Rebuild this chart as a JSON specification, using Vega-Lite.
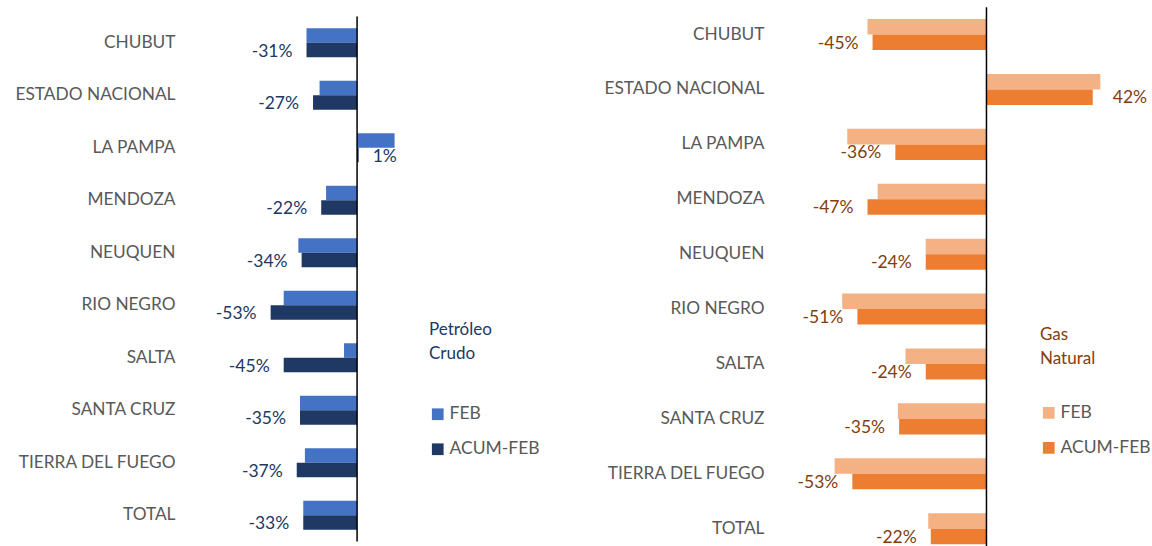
{
  "$schema": "https://vega.github.io/schema/vega-lite/v6.json",
  "background": "white",
  "padding": {"left": 5, "top": 6, "right": 0, "bottom": 0},
  "config": {
    "font": "Lato",
    "view": {"stroke": null},
    "axis": {"grid": false},
    "locale": {"number": {"decimal": ".", "thousands": ",", "grouping": [3], "currency": ["$", ""], "minus": "-"}}
  },
  "datasets": {
    "petroleo": [
      {"prov": "CHUBUT", "serie": "FEB", "value": -0.31},
      {"prov": "CHUBUT", "serie": "ACUM-FEB", "value": -0.31},
      {"prov": "ESTADO NACIONAL", "serie": "FEB", "value": -0.23},
      {"prov": "ESTADO NACIONAL", "serie": "ACUM-FEB", "value": -0.27},
      {"prov": "LA PAMPA", "serie": "FEB", "value": 0.23},
      {"prov": "LA PAMPA", "serie": "ACUM-FEB", "value": 0.01},
      {"prov": "MENDOZA", "serie": "FEB", "value": -0.19},
      {"prov": "MENDOZA", "serie": "ACUM-FEB", "value": -0.22},
      {"prov": "NEUQUEN", "serie": "FEB", "value": -0.36},
      {"prov": "NEUQUEN", "serie": "ACUM-FEB", "value": -0.34},
      {"prov": "RIO NEGRO", "serie": "FEB", "value": -0.45},
      {"prov": "RIO NEGRO", "serie": "ACUM-FEB", "value": -0.53},
      {"prov": "SALTA", "serie": "FEB", "value": -0.08},
      {"prov": "SALTA", "serie": "ACUM-FEB", "value": -0.45},
      {"prov": "SANTA CRUZ", "serie": "FEB", "value": -0.35},
      {"prov": "SANTA CRUZ", "serie": "ACUM-FEB", "value": -0.35},
      {"prov": "TIERRA DEL FUEGO", "serie": "FEB", "value": -0.32},
      {"prov": "TIERRA DEL FUEGO", "serie": "ACUM-FEB", "value": -0.37},
      {"prov": "TOTAL", "serie": "FEB", "value": -0.33},
      {"prov": "TOTAL", "serie": "ACUM-FEB", "value": -0.33}
    ],
    "gas": [
      {"prov": "CHUBUT", "serie": "FEB", "value": -0.47},
      {"prov": "CHUBUT", "serie": "ACUM-FEB", "value": -0.45},
      {"prov": "ESTADO NACIONAL", "serie": "FEB", "value": 0.45},
      {"prov": "ESTADO NACIONAL", "serie": "ACUM-FEB", "value": 0.42},
      {"prov": "LA PAMPA", "serie": "FEB", "value": -0.55},
      {"prov": "LA PAMPA", "serie": "ACUM-FEB", "value": -0.36},
      {"prov": "MENDOZA", "serie": "FEB", "value": -0.43},
      {"prov": "MENDOZA", "serie": "ACUM-FEB", "value": -0.47},
      {"prov": "NEUQUEN", "serie": "FEB", "value": -0.24},
      {"prov": "NEUQUEN", "serie": "ACUM-FEB", "value": -0.24},
      {"prov": "RIO NEGRO", "serie": "FEB", "value": -0.57},
      {"prov": "RIO NEGRO", "serie": "ACUM-FEB", "value": -0.51},
      {"prov": "SALTA", "serie": "FEB", "value": -0.32},
      {"prov": "SALTA", "serie": "ACUM-FEB", "value": -0.24},
      {"prov": "SANTA CRUZ", "serie": "FEB", "value": -0.35},
      {"prov": "SANTA CRUZ", "serie": "ACUM-FEB", "value": -0.345},
      {"prov": "TIERRA DEL FUEGO", "serie": "FEB", "value": -0.6},
      {"prov": "TIERRA DEL FUEGO", "serie": "ACUM-FEB", "value": -0.53},
      {"prov": "TOTAL", "serie": "FEB", "value": -0.23},
      {"prov": "TOTAL", "serie": "ACUM-FEB", "value": -0.22}
    ]
  },
  "spacing": 63,
  "center": true,
  "resolve": {
    "scale": {"x": "independent", "y": "independent", "color": "independent", "yOffset": "independent"},
    "legend": {"color": "independent"},
    "axis": {"x": "independent", "y": "independent"}
  },
  "hconcat": [
    {
      "width": 212,
      "height": 525,
      "data": {"name": "petroleo"},
      "encoding": {
        "y": {
          "field": "prov", "type": "nominal",
          "scale": {"domain": ["CHUBUT", "ESTADO NACIONAL", "LA PAMPA", "MENDOZA", "NEUQUEN", "RIO NEGRO", "SALTA", "SANTA CRUZ", "TIERRA DEL FUEGO", "TOTAL"], "paddingInner": 0.448, "paddingOuter": 0.224},
          "axis": {"title": null, "ticks": false, "tickSize": 0, "domain": false, "labelPadding": 19, "labelFontSize": 17.3, "labelColor": "#595959", "labelLimit": 0, "minExtent": 189, "maxExtent": 189}
        },
        "x": {
          "field": "value", "type": "quantitative",
          "scale": {"domain": [-1.0, 0.3], "nice": false, "zero": false},
          "axis": {"orient": "bottom", "title": null, "labels": false, "ticks": false, "domain": false, "grid": false, "minExtent": 6, "maxExtent": 6}
        }
      },
      "layer": [
        {
          "mark": {"type": "bar"},
          "encoding": {
            "yOffset": {"field": "serie", "type": "nominal", "scale": {"domain": ["FEB", "ACUM-FEB"], "paddingInner": 0, "paddingOuter": 0}},
            "color": {
              "field": "serie", "type": "nominal",
              "scale": {"domain": ["FEB", "ACUM-FEB"], "range": ["#4472C4", "#203864"]},
              "legend": {
                "title": ["Petróleo", "Crudo"], "orient": "none", "legendX": 235, "legendY": 305, "direction": "vertical",
                "titleColor": "#203864", "titleFontSize": 17, "titleFontWeight": "normal", "titleLineHeight": 24, "titlePadding": 43,
                "labelFontSize": 17.5, "labelColor": "#595959", "symbolType": "square", "symbolSize": 137, "symbolStrokeWidth": 0,
                "rowPadding": 16, "labelOffset": 3, "padding": 0
              }
            }
          }
        },
        {
          "transform": [{"filter": "datum.serie === 'ACUM-FEB' && datum.value < 0"}],
          "mark": {"type": "text", "align": "right", "baseline": "middle", "dx": -14, "dy": 9, "fontSize": 17.5, "color": "#203864"},
          "encoding": {"text": {"field": "value", "type": "quantitative", "format": ".0%"}}
        },
        {
          "transform": [{"filter": "datum.serie === 'ACUM-FEB' && datum.value >= 0"}],
          "mark": {"type": "text", "align": "left", "baseline": "middle", "dx": 14, "dy": 9, "fontSize": 17.5, "color": "#203864"},
          "encoding": {"text": {"field": "value", "type": "quantitative", "format": ".0%"}}
        },
        {
          "data": {"values": [{"zero": 0}]},
          "mark": {"type": "rule", "color": "black", "strokeWidth": 1.5},
          "encoding": {"x": {"field": "zero", "type": "quantitative"}, "y": null}
        }
      ]
    },
    {
      "width": 329,
      "height": 549,
      "data": {"name": "gas"},
      "encoding": {
        "y": {
          "field": "prov", "type": "nominal",
          "scale": {"domain": ["CHUBUT", "ESTADO NACIONAL", "LA PAMPA", "MENDOZA", "NEUQUEN", "RIO NEGRO", "SALTA", "SANTA CRUZ", "TIERRA DEL FUEGO", "TOTAL"], "paddingInner": 0.435, "paddingOuter": 0.2175},
          "axis": {"title": null, "ticks": false, "tickSize": 0, "domain": false, "labelPadding": 20, "labelFontSize": 17.3, "labelColor": "#595959", "labelLimit": 0, "minExtent": 180, "maxExtent": 180}
        },
        "x": {
          "field": "value", "type": "quantitative",
          "scale": {"domain": [-0.8, 0.5], "nice": false, "zero": false},
          "axis": null
        }
      },
      "layer": [
        {
          "mark": {"type": "bar"},
          "encoding": {
            "yOffset": {"field": "serie", "type": "nominal", "scale": {"domain": ["FEB", "ACUM-FEB"], "paddingInner": 0, "paddingOuter": 0}},
            "color": {
              "field": "serie", "type": "nominal",
              "scale": {"domain": ["FEB", "ACUM-FEB"], "range": ["#F4B183", "#ED7D31"]},
              "legend": {
                "title": ["Gas", "Natural"], "orient": "none", "legendX": 256, "legendY": 320, "direction": "vertical",
                "titleColor": "#843C0C", "titleFontSize": 17, "titleFontWeight": "normal", "titleLineHeight": 24, "titlePadding": 36,
                "labelFontSize": 17.5, "labelColor": "#595959", "symbolType": "square", "symbolSize": 137, "symbolStrokeWidth": 0,
                "rowPadding": 16, "labelOffset": 3, "padding": 0
              }
            }
          }
        },
        {
          "transform": [{"filter": "datum.serie === 'ACUM-FEB' && datum.value < 0"}],
          "mark": {"type": "text", "align": "right", "baseline": "middle", "dx": -14, "dy": 9, "fontSize": 17.5, "color": "#843C0C"},
          "encoding": {"text": {"field": "value", "type": "quantitative", "format": ".0%"}}
        },
        {
          "transform": [{"filter": "datum.serie === 'ACUM-FEB' && datum.value >= 0"}],
          "mark": {"type": "text", "align": "left", "baseline": "middle", "dx": 20, "dy": 9, "fontSize": 17.5, "color": "#843C0C"},
          "encoding": {"text": {"field": "value", "type": "quantitative", "format": ".0%"}}
        },
        {
          "data": {"values": [{"zero": 0}]},
          "mark": {"type": "rule", "color": "black", "strokeWidth": 1.5},
          "encoding": {"x": {"field": "zero", "type": "quantitative"}, "y": null}
        }
      ]
    }
  ]
}
